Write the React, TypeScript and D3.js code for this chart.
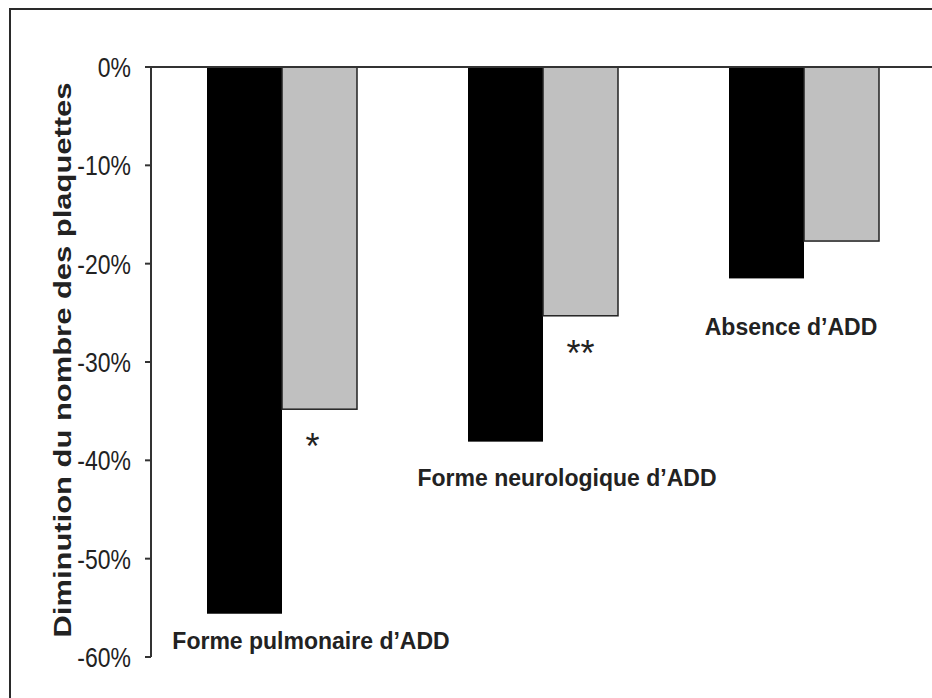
import React from "react";
import * as d3 from "d3";

const categories = ["Forme pulmonaire d’ADD", "Forme neurologique d’ADD", "Absence d’ADD"];
const series = ["black", "gray"];
const blackValues = [-0.556, -0.381, -0.215];
const grayValues = [-0.348, -0.253, -0.177];
const significance = ["*", "**", ""];
const yTicks = [0, -0.1, -0.2, -0.3, -0.4, -0.5, -0.6];
const yTitle = "Diminution du nombre des plaquettes";

const W = 932;
const H = 698;

export default function App() {
  const y = d3.scaleLinear().domain([0, -0.6]).range([67, 657]);
  const x = d3.scaleBand<string>().domain(categories).range([151, 934]).padding(0);
  const xs = d3.scaleBand<string>().domain(series).range([56, 206]).padding(0);
  const fmt = d3.format(".0%");
  const font = "'Liberation Sans', Arial, sans-serif";
  const labelOffsets = [
    { dx: 160, dy: 35 },
    { dx: 155, dy: 44 },
    { dx: 118, dy: 57 },
  ];

  return (
    <svg width={W} height={H} style={{ position: "absolute", left: 0, top: 0, background: "#fff" }} fontFamily={font}>
      <rect x={10} y={9} width={W + 10} height={H + 10} fill="#fff" stroke="#2a2a2a" strokeWidth={2} />
      {categories.map((c, i) => {
        const x0 = x(c)!;
        const b = blackValues[i];
        const g = grayValues[i];
        return (
          <g key={c}>
            <rect x={x0 + xs("black")!} y={y(0)} width={xs.bandwidth()} height={y(b) - y(0)} fill="#000" />
            <rect x={x0 + xs("gray")!} y={y(0)} width={xs.bandwidth()} height={y(g) - y(0)} fill="#c0c0c0" stroke="#222" strokeWidth={1.5} />
          </g>
        );
      })}
      <line x1={151} x2={W} y1={y(0)} y2={y(0)} stroke="#333" strokeWidth={2} />
      <line x1={151} x2={151} y1={y(0)} y2={y(-0.6)} stroke="#333" strokeWidth={2} />
      {yTicks.map((t) => (
        <g key={t}>
          <line x1={145} x2={151} y1={y(t)} y2={y(t)} stroke="#333" strokeWidth={2} />
          <text
            transform={`translate(131,${y(t)}) scale(1,1.2)`}
            textAnchor="end"
            dy="0.36em"
            fontSize={23}
            fill="#222"
          >
            {fmt(t).replace("−", "-")}
          </text>
        </g>
      ))}
      <text
        transform={`translate(71,360) rotate(-90)`}
        textAnchor="middle"
        fontSize={23}
        fontWeight="bold"
        fill="#222"
        textLength={555}
        lengthAdjust="spacingAndGlyphs"
      >
        {yTitle}
      </text>
      {categories.map((c, i) => (
        <text
          key={c}
          x={x(c)! + labelOffsets[i].dx}
          y={y(blackValues[i]) + labelOffsets[i].dy}
          textAnchor="middle"
          fontSize={23}
          fontWeight="bold"
          fill="#222"
        >
          {c}
        </text>
      ))}
      {categories.map((c, i) =>
        significance[i] ? (
          <text
            key={"s" + c}
            x={x(c)! + xs("gray")! + xs.bandwidth() / 2 + (i === 0 ? -7 : 0)}
            y={y(grayValues[i]) + 50}
            textAnchor="middle"
            fontSize={36}
            fill="#222"
          >
            {significance[i]}
          </text>
        ) : null
      )}
    </svg>
  );
}
